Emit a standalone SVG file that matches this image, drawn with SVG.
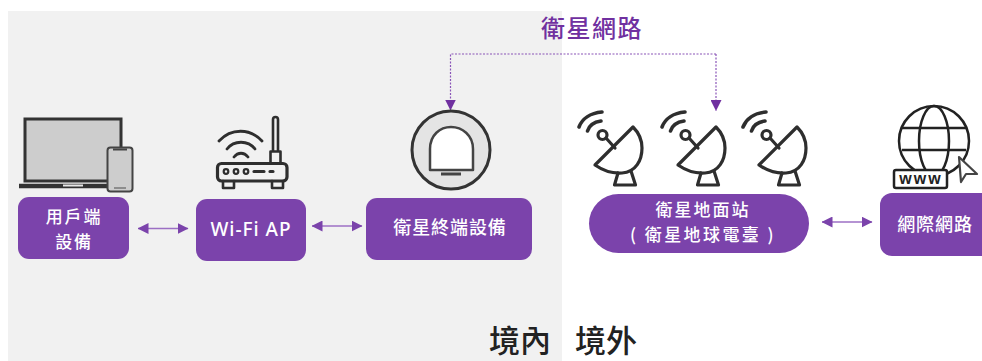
<svg xmlns="http://www.w3.org/2000/svg" width="982" height="361" viewBox="0 0 982 361">
<style>
text{font-family:"Noto Sans CJK TC","Noto Sans",sans-serif;text-anchor:middle}
.n{fill:#7b43ab}
.t{fill:#fff;font-size:18px;font-weight:500;letter-spacing:.9px}
.ic{fill:none;stroke:#2e2e2e;stroke-width:3.2;stroke-linejoin:round;stroke-linecap:round}
.ar{fill:none;stroke:#9c6fc4;stroke-width:1.5;marker-start:url(#h);marker-end:url(#h)}
.d{fill:none;stroke:#8a55b8;stroke-width:1.2;stroke-dasharray:2 1.5;marker-end:url(#hd)}
</style>
<defs>
<marker id="h" viewBox="0 0 11 11" refX="10.5" refY="5.5" markerWidth="11" markerHeight="11" markerUnits="userSpaceOnUse" orient="auto-start-reverse"><path d="M0 0L11 5.5L0 11Z" fill="#7b43ab"/></marker>
<marker id="hd" viewBox="0 0 11 11" refX="10.5" refY="5.5" markerWidth="11" markerHeight="11" markerUnits="userSpaceOnUse" orient="auto"><path d="M0 0L11 5.5L0 11Z" fill="#7030a0"/></marker>
<g id="dish">
<path class="ic" d="M633 127L595 165Q608 174 622 173C636 172 642 160 642 148C642 140 638 132 633 127Z"/>
<path class="ic" d="M606 138L615 148"/>
<circle class="ic" cx="602.500" cy="135" r="4.500"/>
<path class="ic" d="M618 173L614.500 185H635.500L631 171"/>
<path class="ic" d="M579 127C582 119 590 113 602 112M587.500 131C589 126 594 122 601 121" style="stroke-width:3.600"/>
</g>
</defs>
<rect x="8" y="11" width="554" height="350" fill="#f1f1f1"/>
<g id="connectors">
<path class="d" d="M716 54H450.500V110"/>
<path class="d" d="M716 54V110.500"/>
<path class="ar" d="M138 228.500H188"/>
<path class="ar" d="M312 226H362"/>
<path class="ar" d="M822 222H872"/>
</g>
<g id="user-device">
<rect x="25" y="119" width="96" height="62" fill="#cdcdcd" stroke="#333" stroke-width="3"/>
<path d="M19 186H110" stroke="#333" stroke-width="4.500" fill="none"/>
<rect x="63" y="184.500" width="20" height="2" fill="#e8e8e8"/>
<rect x="107.500" y="147.500" width="25" height="44" rx="3" fill="#cdcdcd" stroke="#444" stroke-width="2"/>
<path d="M113 149.500H127" stroke="#444" stroke-width="2"/>
<path d="M114 188H126" stroke="#777" stroke-width="1.500"/>
<rect x="18" y="197" width="111" height="62" rx="11" class="n"/>
<text class="t" x="74" y="222.500" style="font-size:17px;letter-spacing:1.800px">用戶端</text>
<text class="t" x="74" y="247.500" style="font-size:17px;letter-spacing:1.800px">設備</text>
</g>
<g id="wifi-ap">
<rect x="217.500" y="163.500" width="69.500" height="17.500" rx="4" class="ic"/>
<path class="ic" d="M270.500 163V151.500H280.500V163M273 151V119.500A2.500 2.500 0 0 1 278 119.500V151" style="stroke-width:2.600"/>
<path class="ic" d="M223 181V188H234V181M272 181V188H283V181" style="stroke-width:2.600"/>
<circle cx="226" cy="171.500" r="2.300" class="ic" style="stroke-width:2.200"/><circle cx="236" cy="171.500" r="2.300" class="ic" style="stroke-width:2.200"/><circle cx="246" cy="171.500" r="2.300" class="ic" style="stroke-width:2.200"/>
<path class="ic" d="M254 171.500H264M270 171.500H273"/>
<path class="ic" d="M219 141C231 128 250 128 262 141M227 149C234 140 248 140 255 149M234 157C238 152 244 152 248 157" style="stroke-width:2.800"/>
<rect x="196" y="199" width="110" height="62" rx="11" class="n"/>
<text class="t" x="251" y="236" style="font-size:19px;font-family:'Noto Sans',sans-serif;letter-spacing:1px">Wi-Fi AP</text>
</g>
<g id="satellite-terminal">
<circle cx="451" cy="150" r="39" fill="#e4e4e4" stroke="#333" stroke-width="3"/>
<path d="M430 170V149C430 135 440 127 451 127C462 127 473 135 473 149V170Z" fill="#fff" stroke="#444" stroke-width="2.500" stroke-linejoin="round"/>
<path d="M441 174H461" stroke="#444" stroke-width="3"/>
<rect x="366" y="198" width="166" height="62" rx="11" class="n"/>
<text class="t" x="450" y="234">衛星終端設備</text>
</g>
<g id="ground-station">
<use href="#dish"/>
<use href="#dish" x="83"/>
<use href="#dish" x="164"/>
<rect x="589" y="194" width="220" height="59" rx="29.500" class="n"/>
<text class="t" x="703" y="216" style="font-size:17px;letter-spacing:2px">衛星地面站</text>
<text class="t" x="703" y="241" style="font-size:17px;letter-spacing:2.400px">( 衛星地球電臺 )</text>
</g>
<g id="internet">
<circle cx="934" cy="141" r="35" fill="none" stroke="#222" stroke-width="2.500"/>
<ellipse cx="934" cy="141" rx="15" ry="35" fill="none" stroke="#222" stroke-width="2.500"/>
<path d="M902 128H966M902 150H966" stroke="#222" stroke-width="2.500" fill="none"/>
<rect x="894" y="170" width="53" height="18" rx="2" fill="#fff" stroke="#222" stroke-width="2.500"/>
<text x="921" y="184" style="font-family:'Liberation Sans',sans-serif;font-weight:700;font-size:16px;letter-spacing:2px" fill="#222">www</text>
<path d="M959 157L977 174L966 174L961 182Z" fill="#fff" stroke="#444" stroke-width="2.200" stroke-linejoin="round"/>
<path d="M880 205A12 12 0 0 1 892 193H982V256H892A12 12 0 0 1 880 244Z" class="n"/>
<text class="t" x="935" y="231">網際網路</text>
</g>
<g id="labels">
<text x="592" y="37" font-size="24" font-weight="500" letter-spacing="1.500" fill="#7030a0">衛星網路</text>
<text x="520" y="352" font-size="31" font-weight="500" fill="#222">境內</text>
<text x="606" y="352" font-size="31" font-weight="500" fill="#222">境外</text>
</g>
</svg>
